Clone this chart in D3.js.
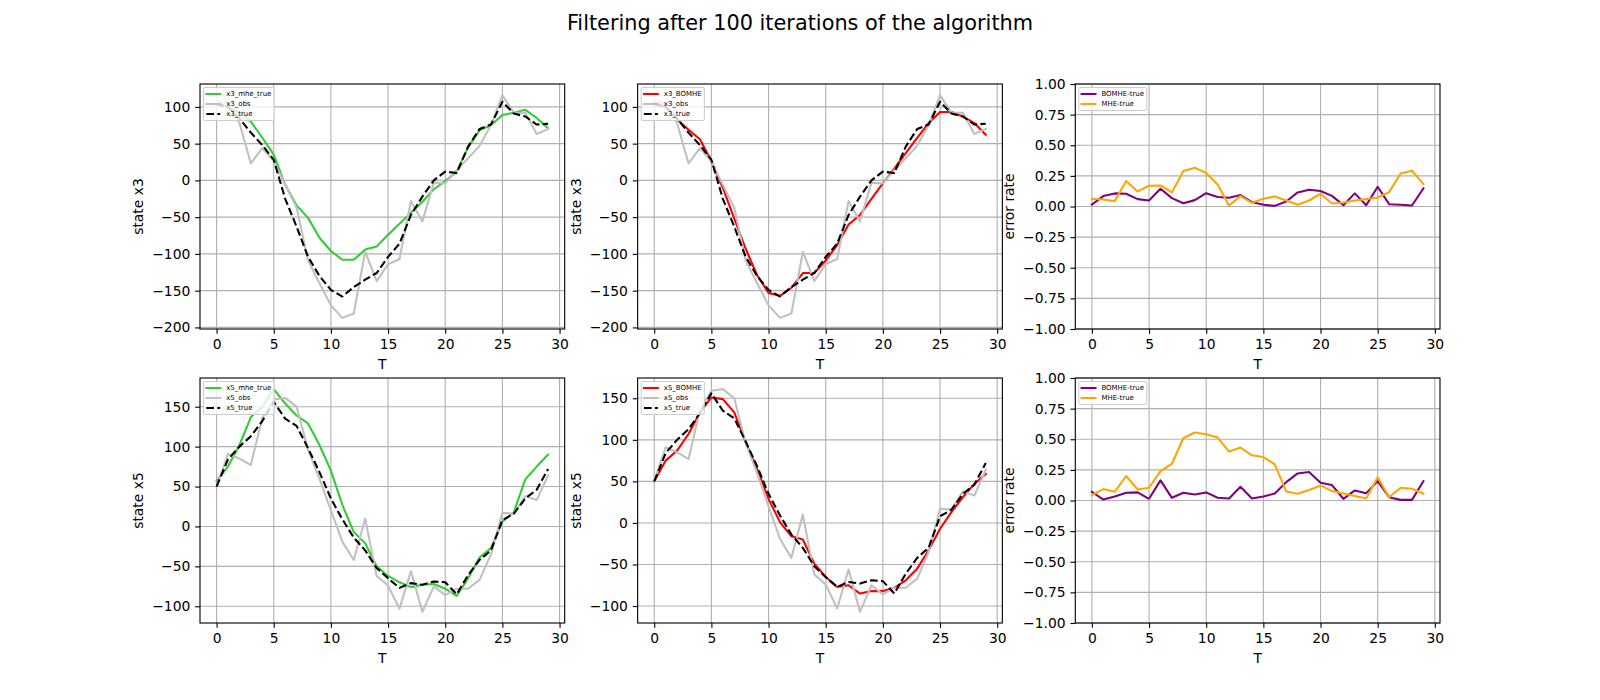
<!DOCTYPE html>
<html>
<head>
<meta charset="utf-8">
<script src="https://cdn.jsdelivr.net/npm/d3@7"></script>
<style>
  body { margin: 0; background: #fff; }
  svg { display: block; font-family: "DejaVu Sans", sans-serif; }
</style>
</head>
<body>
<div id="chart"></div>
<script>

// time steps
var T = [0, 1, 2, 3, 4, 5, 6, 7, 8, 9, 10, 11, 12, 13, 14, 15, 16, 17, 18, 19, 20, 21, 22, 23, 24, 25, 26, 27, 28, 29];

// state x3
var x3True  = [104, 100, 84, 65, 48, 28, -25, -63, -104, -130, -149, -158, -145, -135, -126, -104, -86, -47, -22, 0, 12, 10, 46, 70, 76, 107, 91, 87, 76, 77];
var x3Obs   = [108, 105, 78, 23, 44, 26, -6, -37, -109, -140, -170, -187, -181, -97, -137, -114, -107, -28, -56, -3, -4, 14, 30, 47, 75, 116, 92, 92, 63, 70];
var x3Mhe   = [104, 100, 92, 80, 58, 35, -6, -34, -51, -78, -96, -108, -108, -94, -90, -74, -59, -44, -29, -12, -1, 12, 45, 68, 75, 89, 92, 96, 85, 71];
var x3Bomhe = [105, 100, 83, 69, 56, 26, -10, -52, -93, -129, -153, -157, -146, -126, -126, -109, -88, -60, -47, -25, -4, 16, 37, 58, 78, 93, 93, 87, 78, 62];

// state x5
var x5True  = [50, 84, 100, 113, 132, 156, 135, 126, 98, 68, 35, 9, -14, -30, -52, -65, -77, -71, -73, -69, -70, -85, -61, -42, -30, 8, 16, 35, 46, 72];
var x5Obs   = [50, 91, 85, 77, 136, 159, 161, 150, 96, 60, 20, -19, -42, 10, -62, -74, -103, -56, -107, -75, -86, -78, -78, -67, -35, 17, 16, 38, 33, 64];
var x5Mhe   = [57, 75, 102, 137, 150, 172, 154, 139, 129, 102, 70, 27, -7, -21, -50, -62, -70, -76, -73, -72, -78, -87, -65, -39, -27, 6, 18, 59, 75, 90];
var x5Bomhe = [50, 75, 87, 107, 133, 151, 149, 133, 97, 65, 29, 1, -16, -20, -49, -65, -77, -75, -85, -82, -82, -78, -69, -55, -33, -7, 13, 31, 47, 59];

// error rates
var bomheErr3 = [0.016, 0.085, 0.107, 0.104, 0.06, 0.049, 0.145, 0.068, 0.027, 0.052, 0.109, 0.077, 0.071, 0.093, 0.036, 0.014, 0.005, 0.041, 0.115, 0.137, 0.126, 0.087, 0.011, 0.107, 0.011, 0.161, 0.019, 0.014, 0.008, 0.148];
var mheErr3   = [0.063, 0.057, 0.044, 0.208, 0.123, 0.169, 0.172, 0.115, 0.29, 0.317, 0.273, 0.18, 0.008, 0.085, 0.03, 0.063, 0.082, 0.049, 0.014, 0.049, 0.104, 0.025, 0.033, 0.049, 0.06, 0.074, 0.117, 0.27, 0.292, 0.183];
var bomheErr5 = [0.071, 0.008, 0.033, 0.063, 0.066, 0.014, 0.164, 0.022, 0.063, 0.049, 0.066, 0.022, 0.016, 0.112, 0.016, 0.033, 0.057, 0.15, 0.221, 0.232, 0.145, 0.126, 0.014, 0.082, 0.06, 0.158, 0.027, 0.005, 0.005, 0.158];
var mheErr5   = [0.044, 0.093, 0.071, 0.2, 0.09, 0.104, 0.24, 0.3, 0.508, 0.555, 0.541, 0.514, 0.399, 0.432, 0.369, 0.355, 0.295, 0.074, 0.055, 0.085, 0.123, 0.077, 0.057, 0.036, 0.016, 0.189, 0.027, 0.104, 0.096, 0.057];

// tick values
var xTicks = [0, 5, 10, 15, 20, 25, 30];
var x3Ticks = [-200, -150, -100, -50, 0, 50, 100];
var x5Ticks = [-100, -50, 0, 50, 100, 150];
var errTicks = [-1, -0.75, -0.5, -0.25, 0, 0.25, 0.5, 0.75, 1];

var PX = 100 / 72; // points -> pixels (dpi 100)
var FS = 10 * PX;  // tick / label font size

var svg = d3.select("#chart").append("svg")
    .attr("width", 1600)
    .attr("height", 700);

svg.append("text")
    .attr("x", 800)
    .attr("y", 14 + 0.76 * 15 * PX)
    .attr("text-anchor", "middle")
    .attr("font-size", 15 * PX)
    .text("Filtering after 100 iterations of the algorithm");

// same subplot grid as matplotlib defaults (left .125, right .9, bottom .11, top .88, spacing .2)
var axW = 1600 * (0.9 - 0.125) / 3.4;
var axH = 700 * (0.88 - 0.11) / 2.2;

function cell(row, col) {
  return { left: 200 + col * axW * 1.2, top: 84 + row * axH * 1.2 };
}

var clipCount = 0;

function drawPanel(pos, series, yTicks, yLabel, yDomain, yFmt) {
  var g = svg.append("g").attr("transform", "translate(" + pos.left + "," + pos.top + ")");

  var x = d3.scaleLinear().domain([-1.45, 30.45]).range([0, axW]);

  // auto limits with 5% margin, like matplotlib
  if (!yDomain) {
    var all = [];
    series.forEach(function (s) { all = all.concat(s.values); });
    var ext = d3.extent(all);
    var pad = (ext[1] - ext[0]) * 0.05;
    yDomain = [ext[0] - pad, ext[1] + pad];
  }
  var y = d3.scaleLinear().domain(yDomain).range([axH, 0]);

  // grid
  g.append("g").selectAll("line").data(xTicks).join("line")
      .attr("x1", function (d) { return x(d); })
      .attr("x2", function (d) { return x(d); })
      .attr("y1", 0).attr("y2", axH)
      .attr("stroke", "#b0b0b0").attr("stroke-width", 0.8 * PX);
  g.append("g").selectAll("line").data(yTicks).join("line")
      .attr("y1", function (d) { return y(d); })
      .attr("y2", function (d) { return y(d); })
      .attr("x1", 0).attr("x2", axW)
      .attr("stroke", "#b0b0b0").attr("stroke-width", 0.8 * PX);

  var clipId = "clip" + (clipCount++);
  g.append("clipPath").attr("id", clipId)
    .append("rect").attr("width", axW).attr("height", axH);

  var line = d3.line()
      .x(function (d, i) { return x(T[i]); })
      .y(function (d) { return y(d); });

  var lines = g.append("g").attr("clip-path", "url(#" + clipId + ")");
  series.forEach(function (s) {
    lines.append("path")
        .datum(s.values)
        .attr("d", line)
        .attr("fill", "none")
        .attr("stroke", s.color)
        .attr("stroke-width", 1.5 * PX)
        .attr("stroke-linejoin", "round")
        .attr("stroke-linecap", s.dashed ? "butt" : "square")
        .attr("stroke-dasharray", s.dashed ? "7.7,3.33" : null);
  });

  var xAxis = g.append("g")
      .attr("transform", "translate(0," + axH + ")")
      .call(d3.axisBottom(x).tickValues(xTicks).tickFormat(d3.format("d"))
        .tickSizeInner(3.5 * PX).tickSizeOuter(0).tickPadding(3.5 * PX));
  var yAxis = g.append("g")
      .call(d3.axisLeft(y).tickValues(yTicks).tickFormat(yFmt)
        .tickSizeInner(3.5 * PX).tickSizeOuter(0).tickPadding(3.5 * PX));

  [xAxis, yAxis].forEach(function (a) {
    a.attr("font-size", FS).attr("font-family", null);
    a.select(".domain").remove();
    a.selectAll(".tick line").attr("stroke", "#000").attr("stroke-width", 0.8 * PX);
    a.selectAll(".tick text").attr("fill", "#000");
  });
  xAxis.selectAll(".tick text").attr("dy", "0.76em");

  // spines
  g.append("rect")
      .attr("width", axW).attr("height", axH)
      .attr("fill", "none").attr("stroke", "#000").attr("stroke-width", 0.8 * PX);

  g.append("text")
      .attr("x", axW / 2)
      .attr("y", axH + 39.8)
      .attr("text-anchor", "middle")
      .attr("font-size", FS)
      .text("T");

  var yb = yAxis.node().getBBox();
  var lx = yb.x - 4 * PX - 0.23 * FS;
  g.append("text")
      .attr("transform", "translate(" + lx + "," + (axH / 2) + ") rotate(-90)")
      .attr("text-anchor", "middle")
      .attr("font-size", FS)
      .text(yLabel);

  drawLegend(g, series);
}

function drawLegend(g, series) {
  var fs = 5 * PX;
  var lg = g.append("g").attr("transform", "translate(3.5,3.5)");
  var box = lg.append("rect")
      .attr("rx", 1.4).attr("ry", 1.4)
      .attr("fill", "#fff").attr("fill-opacity", 0.8)
      .attr("stroke", "#cccccc").attr("stroke-width", 1);

  var rows = lg.selectAll("g.row").data(series).join("g")
      .attr("class", "row")
      .attr("transform", function (d, i) { return "translate(2.8," + (6.5 + i * 10) + ")"; });

  rows.append("line")
      .attr("x1", 0).attr("x2", 13.9)
      .attr("stroke", function (d) { return d.color; })
      .attr("stroke-width", 1.5 * PX)
      .attr("stroke-linecap", function (d) { return d.dashed ? "butt" : "square"; })
      .attr("stroke-dasharray", function (d) { return d.dashed ? "7.7,3.33" : null; });

  var texts = rows.append("text")
      .attr("x", 19.9)
      .attr("dy", "0.35em")
      .attr("font-size", fs)
      .attr("fill", "#000")
      .text(function (d) { return d.label; });

  var w = 0;
  texts.each(function () { w = Math.max(w, this.getComputedTextLength()); });
  box.attr("width", 19.9 + w + 2.8 + 2.8)
     .attr("height", 13 + (series.length - 1) * 10);
}

var numFmt = d3.format("d");
var errFmt = d3.format(".2f");

drawPanel(cell(0, 0), [
  { values: x3Mhe, color: "#32cd32", label: "x3_mhe_true" },
  { values: x3Obs, color: "#c0c0c0", label: "x3_obs" },
  { values: x3True, color: "#000", label: "x3_true", dashed: true }
], x3Ticks, "state x3", null, numFmt);

drawPanel(cell(0, 1), [
  { values: x3Bomhe, color: "#ff0000", label: "x3_BOMHE" },
  { values: x3Obs, color: "#c0c0c0", label: "x3_obs" },
  { values: x3True, color: "#000", label: "x3_true", dashed: true }
], x3Ticks, "state x3", null, numFmt);

drawPanel(cell(0, 2), [
  { values: bomheErr3, color: "#800080", label: "BOMHE-true" },
  { values: mheErr3, color: "#ffa500", label: "MHE-true" }
], errTicks, "error rate", [-1, 1], errFmt);

drawPanel(cell(1, 0), [
  { values: x5Mhe, color: "#32cd32", label: "x5_mhe_true" },
  { values: x5Obs, color: "#c0c0c0", label: "x5_obs" },
  { values: x5True, color: "#000", label: "x5_true", dashed: true }
], x5Ticks, "state x5", null, numFmt);

drawPanel(cell(1, 1), [
  { values: x5Bomhe, color: "#ff0000", label: "x5_BOMHE" },
  { values: x5Obs, color: "#c0c0c0", label: "x5_obs" },
  { values: x5True, color: "#000", label: "x5_true", dashed: true }
], x5Ticks, "state x5", null, numFmt);

drawPanel(cell(1, 2), [
  { values: bomheErr5, color: "#800080", label: "BOMHE-true" },
  { values: mheErr5, color: "#ffa500", label: "MHE-true" }
], errTicks, "error rate", [-1, 1], errFmt);

</script>
</body>
</html>
